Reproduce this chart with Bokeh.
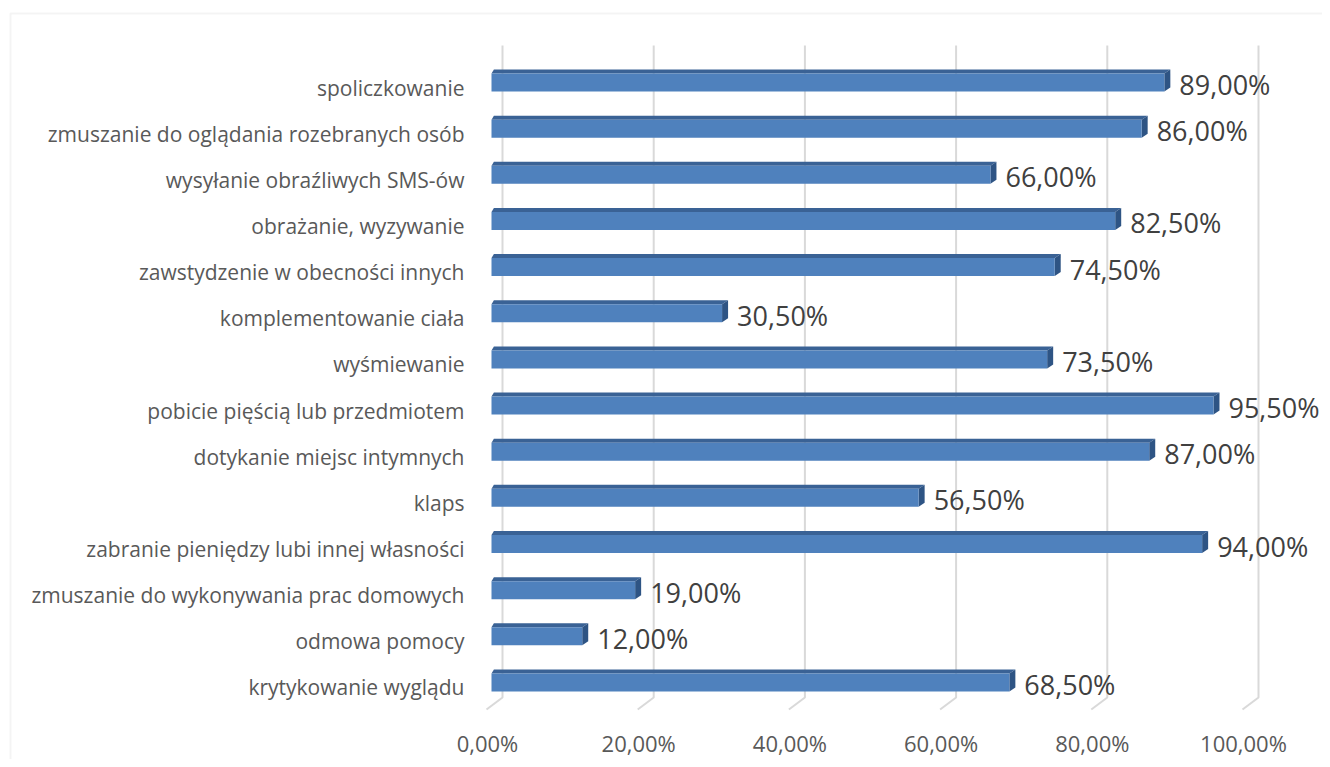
from bokeh.plotting import figure
from bokeh.models import Range1d, BoxAnnotation, ColumnDataSource
from bokeh.core.properties import value
from bokeh.embed import file_html
from bokeh.resources import INLINE

# bottom -> top
categories = [
    "krytykowanie wyglądu",
    "odmowa pomocy",
    "zmuszanie do wykonywania prac domowych",
    "zabranie pieniędzy lubi innej własności",
    "klaps",
    "dotykanie miejsc intymnych",
    "pobicie pięścią lub przedmiotem",
    "wyśmiewanie",
    "komplementowanie ciała",
    "zawstydzenie w obecności innych",
    "obrażanie, wyzywanie",
    "wysyłanie obraźliwych SMS-ów",
    "zmuszanie do oglądania rozebranych osób",
    "spoliczkowanie",
]
values = [68.5, 12.0, 19.0, 94.0, 56.5, 87.0, 95.5, 73.5, 30.5, 74.5, 82.5, 66.0, 86.0, 89.0]
x_ticks = [0, 20, 40, 60, 80, 100]
x_tick_labels = ["0,00%", "20,00%", "40,00%", "60,00%", "80,00%", "100,00%"]

def pct(v):
    return f"{v:.2f}".replace(".", ",") + "%"

W, H = 1322, 759
PXX = 7.56     # px per percent
PXY = 46.15    # px per category
X0 = 491       # px of 0%
Y_TOP_CAT = 82 # px of top category centre
n = len(categories)

x_start = -X0 / PXX
x_end = (W - X0) / PXX
y_end = (n - 1) + Y_TOP_CAT / PXY
y_start = (n - 1) - (H - Y_TOP_CAT) / PXY

p = figure(width=W, height=H, output_backend="svg", toolbar_location=None,
           x_range=Range1d(x_start, x_end), y_range=Range1d(y_start, y_end),
           min_border=0, min_border_left=0, min_border_right=0,
           min_border_top=0, min_border_bottom=0)
p.outline_line_color = None
p.axis.visible = False
p.xgrid.visible = False
p.ygrid.visible = False
p.background_fill_color = "white"
p.border_fill_color = "white"

# chart area border (left & top visible)
p.add_layout(BoxAnnotation(left=10, top=13, right=W + 20, bottom=H + 20,
                           left_units="canvas", right_units="canvas",
                           top_units="canvas", bottom_units="canvas",
                           fill_color=None, line_color="#d9d9d9", line_width=2))

# 3D-ish gridlines: back wall vertical + floor diagonal
gx_back = 11 / PXX
gx_front = -5 / PXX
g_top = (n - 1) + (Y_TOP_CAT - 45) / PXY
g_bot = -(697 - (Y_TOP_CAT + (n - 1) * PXY)) / PXY
g_floor = g_bot - 12 / PXY
xs_g, ys_g = [], []
for t in x_ticks:
    xs_g.append([t + gx_back, t + gx_back, t + gx_front])
    ys_g.append([g_top, g_bot, g_floor])
p.multi_line(xs_g, ys_g, line_color="#d9d9d9", line_width=2)

# bars
ypos = list(range(n))
hh = 9 / PXY
dx, dy = 6 / PXX, 4 / PXY
top_xs, top_ys, side_xs, side_ys = [], [], [], []
for y, v in zip(ypos, values):
    top_xs.append([0, v, v + dx, dx * 0.4])
    top_ys.append([y + hh, y + hh, y + hh + dy, y + hh + dy])
    side_xs.append([v, v + dx, v + dx, v])
    side_ys.append([y + hh, y + hh + dy, y - hh + dy, y - hh])
p.patches(top_xs, top_ys, fill_color="#3a6295", line_color=None)
p.patches(side_xs, side_ys, fill_color="#2e5484", line_color=None)
p.hbar(y=ypos, right=values, left=0, height=2 * hh, fill_color="#4f81bd", line_color=None)

# data labels
src = ColumnDataSource(dict(x=[v + 15 / PXX for v in values], y=[y - 2 / PXY for y in ypos],
                            t=[pct(v) for v in values]))
p.text(x="x", y="y", text="t", source=src, text_font=value("Open Sans"),
       text_font_size="27px", text_color="#404040", text_baseline="middle", text_align="left")

# category labels
csrc = ColumnDataSource(dict(x=[-27 / PXX] * n, y=[y - 5 / PXY for y in ypos], t=categories))
p.text(x="x", y="y", text="t", source=csrc, text_font=value("Open Sans"),
       text_font_size="21px", text_color="#595959", text_baseline="middle", text_align="right")

# x tick labels
tsrc = ColumnDataSource(dict(x=[t - 4 / PXX for t in x_ticks],
                             y=[(n - 1) - (742 - Y_TOP_CAT) / PXY] * len(x_ticks),
                             t=x_tick_labels))
p.text(x="x", y="y", text="t", source=tsrc, text_font=value("Open Sans"),
       text_font_size="22px", text_color="#595959", text_baseline="middle", text_align="center")

open("out.html", "w").write(file_html(p, INLINE))
